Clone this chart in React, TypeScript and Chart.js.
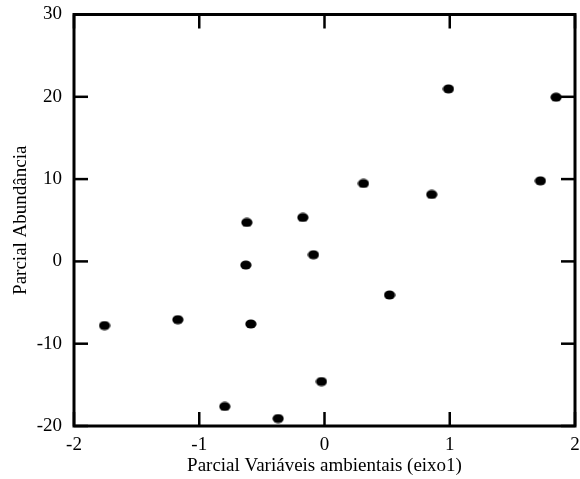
import { useEffect, useRef } from 'react';
import { Chart, registerables } from 'chart.js';

Chart.register(...registerables);

const xValues = [-1.756, -1.171, -0.620, -0.628, -0.588, -0.796, -0.370, -0.173, -0.088, -0.024, 0.311, 0.519, 0.856, 0.990, 1.724, 1.849];
const yValues = [-7.79, -7.08, 4.73, -0.44, -7.60, -17.63, -19.09, 5.34, 0.81, -14.6, 9.47, -4.08, 8.13, 20.96, 9.79, 19.95];
const xTicks = [-2, -1, 0, 1, 2];
const yTicks = [-20, -10, 0, 10, 20, 30];
const xTitle = 'Parcial Variáveis ambientais (eixo1)';
const yTitle = 'Parcial Abundância';

const FONT = '"Liberation Serif", "DejaVu Serif", serif';

export default function App() {
  const ref = useRef<HTMLCanvasElement>(null);

  useEffect(() => {
    const dot = document.createElement('canvas');
    dot.width = 12;
    dot.height = 10;
    const dc = dot.getContext('2d')!;
    dc.fillStyle = '#000';
    dc.beginPath();
    dc.ellipse(6, 5, 5.6, 4.6, 0, 0, Math.PI * 2);
    dc.fill();

    const frame = {
      id: 'frame',
      afterDatasetsDraw(chart: any) {
        const { ctx, chartArea: a, scales } = chart;
        const L = 14;
        ctx.save();
        ctx.strokeStyle = '#000';
        ctx.lineWidth = 2.5;
        const seg = (x1: number, y1: number, x2: number, y2: number) => {
          ctx.beginPath();
          ctx.moveTo(x1, y1);
          ctx.lineTo(x2, y2);
          ctx.stroke();
        };
        xTicks.forEach((v) => {
          const px = scales.x.getPixelForValue(v);
          seg(px, a.bottom, px, a.bottom - L);
          seg(px, a.top, px, a.top + L);
        });
        yTicks.forEach((v) => {
          const py = scales.y.getPixelForValue(v);
          seg(a.left, py, a.left + L, py);
          seg(a.right, py, a.right - L, py);
        });
        ctx.lineWidth = 3;
        ctx.strokeRect(a.left, a.top, a.right - a.left, a.bottom - a.top);
        ctx.restore();
      },
    };

    const data = xValues.map((x, i) => ({ x, y: yValues[i] }));

    const zeroPad = (s: any) => {
      s.paddingTop = 0;
      s.paddingBottom = 0;
      s.paddingLeft = 0;
      s.paddingRight = 0;
    };

    const chart = new Chart(ref.current!, {
      type: 'scatter',
      data: {
        datasets: [
          {
            data,
            pointStyle: dot as any,
            pointRadius: 6,
            backgroundColor: '#000',
            borderColor: '#000',
          },
        ],
      },
      options: {
        animation: false,
        responsive: false,
        devicePixelRatio: 1,
        layout: { autoPadding: false, padding: { top: 14.5, right: 5, left: 0, bottom: 0 } },
        plugins: { legend: { display: false }, tooltip: { enabled: false } },
        scales: {
          x: {
            type: 'linear',
            min: -2,
            max: 2,
            afterFit: (s: any) => {
              s.height = 53;
              zeroPad(s);
            },
            afterBuildTicks: (s: any) => {
              s.ticks = xTicks.map((v) => ({ value: v }));
            },
            grid: { display: false, drawTicks: false },
            border: { display: false },
            ticks: {
              color: '#000',
              padding: 8,
              font: { family: FONT, size: 19 },
              callback: (v: any) => String(v),
            },
            title: {
              display: true,
              text: xTitle,
              color: '#000',
              font: { family: FONT, size: 19 },
              padding: { top: 0, bottom: 2 },
            },
          },
          y: {
            type: 'linear',
            min: -20,
            max: 30,
            afterFit: (s: any) => {
              s.width = 74;
              zeroPad(s);
            },
            afterBuildTicks: (s: any) => {
              s.ticks = yTicks.map((v) => ({ value: v }));
            },
            grid: { display: false, drawTicks: false },
            border: { display: false },
            ticks: {
              color: '#000',
              padding: 12,
              font: { family: FONT, size: 19 },
              callback: (v: any) => String(v),
            },
            title: {
              display: true,
              text: yTitle,
              color: '#000',
              font: { family: FONT, size: 19 },
              padding: { top: 10, bottom: 0 },
            },
          },
        },
      },
      plugins: [frame],
    });

    return () => chart.destroy();
  }, []);

  return (
    <div style={{ position: 'absolute', left: 0, top: 0, width: 580, height: 479, background: '#fff' }}>
      <canvas ref={ref} width={580} height={479} style={{ display: 'block' }} />
    </div>
  );
}
